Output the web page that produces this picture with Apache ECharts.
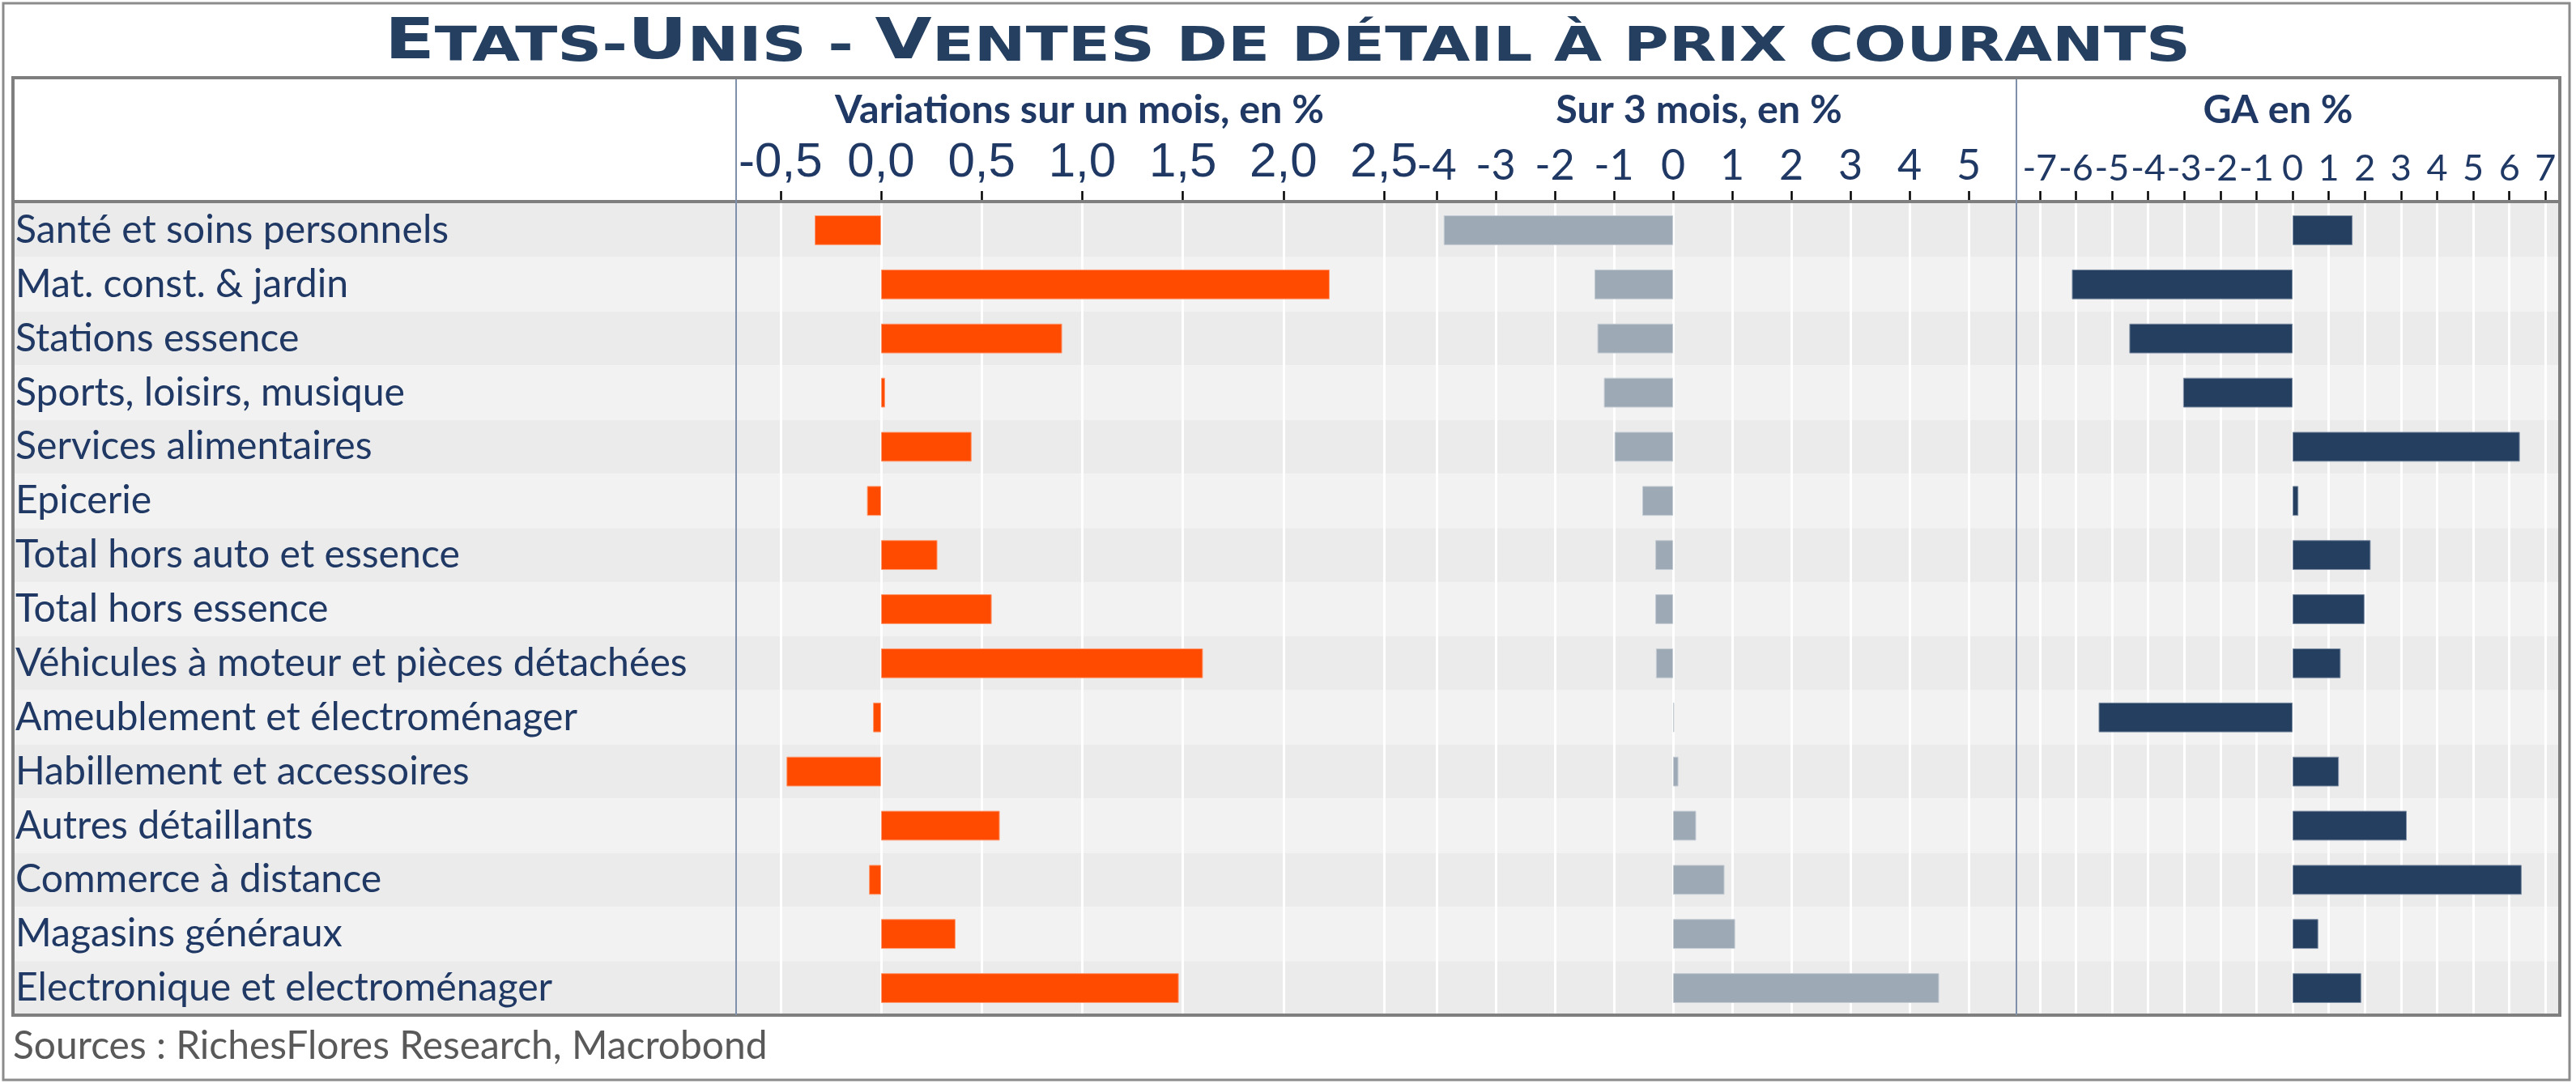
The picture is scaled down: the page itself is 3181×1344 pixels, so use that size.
<!DOCTYPE html>
<html><head><meta charset="utf-8">
<script src="https://cdn.jsdelivr.net/npm/echarts@6/dist/echarts.min.js"></script>
<style>html,body{margin:0;padding:0;background:#fff}#c{width:3181px;height:1344px}</style>
</head><body><div id="c"></div>
<script>
// ---------------- DATA ----------------
const categories = [
  'Santé et soins personnels',
  'Mat. const. & jardin',
  'Stations essence',
  'Sports, loisirs, musique',
  'Services alimentaires',
  'Epicerie',
  'Total hors auto et essence',
  'Total hors essence',
  'Véhicules à moteur et pièces détachées',
  'Ameublement et électroménager',
  'Habillement et accessoires',
  'Autres détaillants',
  'Commerce à distance',
  'Magasins généraux',
  'Electronique et electroménager'
];
const monthly     = [-0.33, 2.23, 0.90, 0.02, 0.45, -0.07, 0.28, 0.55, 1.60, -0.04, -0.47, 0.59, -0.06, 0.37, 1.48];
const threeMonths = [-3.88, -1.33, -1.28, -1.17, -0.99, -0.52, -0.30, -0.30, -0.29, 0.02, 0.09, 0.39, 0.87, 1.05, 4.50];
const yoy         = [1.66, -6.11, -4.52, -3.03, 6.29, 0.16, 2.16, 1.99, 1.33, -5.37, 1.28, 3.16, 6.34, 0.71, 1.90];

const panelTitles = ['Variations sur un mois, en %', 'Sur 3 mois, en %', 'GA en %'];
const monthlyAxis     = [-0.5, 2.5, 0.5];   // min, max, interval
const threeMonthsAxis = [-4, 5, 1];
const yoyAxis         = [-7, 7, 1];
const titleText  = 'Etats-Unis - Ventes de détail à prix courants';
const sourceText = 'Sources : RichesFlores Research, Macrobond';

// ---------------- LAYOUT / STYLE ----------------
const W = 3181, H = 1344;
const NAVY = '#1F3864';
const TOP = 251, TABLE_BOTTOM = 1254;
const cv = document.createElement('canvas').getContext('2d');
function measure(text, font) { cv.font = font; return cv.measureText(text).width; }
function fit(text, weight, family, target) {
  const w = measure(text, weight + ' 100px ' + family);
  return 100 * target / w;
}
const labelSize  = fit('Véhicules à moteur et pièces détachées', 'normal', 'Lato', 830);
const headerSize = fit(panelTitles[0], 'bold', 'Lato', 604);
const sourceSize = fit(sourceText, 'normal', 'Lato', 932);

// title in pseudo small-caps
const BIG = 70, SMALL = 59, TFONT = '"DejaVu Sans"';
let rich = '', tWidth = 0;
{
  let runs = [];
  for (const ch of titleText) {
    const isBig = ch !== ch.toLowerCase() && ch === ch.toUpperCase();
    const k = isBig ? 'b' : 's';
    if (runs.length && runs[runs.length - 1].k === k) runs[runs.length - 1].t += ch.toUpperCase();
    else runs.push({ k, t: ch.toUpperCase() });
  }
  for (const r of runs) {
    rich += '{' + r.k + '|' + r.t + '}';
    tWidth += measure(r.t, 'bold ' + (r.k === 'b' ? BIG : SMALL) + 'px ' + TFONT);
  }
}
const titleScale = 2230 / tWidth;

// panel x-pixel anchors (min tick -> max tick)
const panels = [
  { left: 963.8, right: 1709,   axis: monthlyAxis,     data: monthly,     color: '#FF4B00', border: '#FF9A70',
    fmt: v => (Math.abs(v) < 1e-9 ? '0,0' : v.toFixed(1).replace('.', ',')), font: '"Liberation Sans Narrow", "Liberation Sans", sans-serif', fsize: 60, title: panelTitles[0], tx: 1333 },
  { left: 1774,  right: 2431,   axis: threeMonthsAxis, data: threeMonths, color: '#9DA9B5', border: '#C4CCD4',
    fmt: v => String(Math.round(v)), font: 'Lato', fsize: 52, title: panelTitles[1], tx: 2098 },
  { left: 2518.8, right: 3143.3, axis: yoyAxis,        data: yoy,         color: '#243F60', border: '#7D8DA3',
    fmt: v => String(Math.round(v)), font: 'Lato', fsize: 45, title: panelTitles[2], tx: 2813 }
];

const grids = [{ left: 16, right: W - 3161, top: TOP, bottom: H - TABLE_BOTTOM }];
const xAxes = [{ type: 'value', gridIndex: 0, show: false, min: 0, max: 1 }];
const yAxes = [{
  type: 'category', gridIndex: 0, data: categories, inverse: true, z: 0,
  axisLine: { show: false }, axisTick: { show: false },
  axisLabel: { inside: true, margin: 3, fontFamily: 'Lato', fontSize: labelSize, color: NAVY },
  splitArea: { show: true, areaStyle: { color: ['#EBEBEB', '#F2F2F2'] } },
  splitLine: { show: false }
}];
const series = [];
panels.forEach((p, i) => {
  const gi = i + 1;
  grids.push({ left: p.left, width: p.right - p.left, top: TOP, bottom: H - TABLE_BOTTOM });
  xAxes.push({
    type: 'value', gridIndex: gi, position: 'top', z: 1,
    min: p.axis[0], max: p.axis[1], interval: p.axis[2],
    axisLine: { show: false },
    axisTick: { show: true, length: 15, lineStyle: { color: '#000', width: 2.5 } },
    axisLabel: { margin: 20, fontFamily: p.font, fontSize: p.fsize, color: NAVY, formatter: p.fmt,
      hideOverlap: false, showMinLabel: true, showMaxLabel: true },
    splitLine: { show: true, showMinLine: true, showMaxLine: true, lineStyle: { color: '#FFFFFF', width: 3 } }
  });
  yAxes.push({ type: 'category', gridIndex: gi, data: categories, inverse: true, show: false });
  series.push({
    type: 'bar', xAxisIndex: gi, yAxisIndex: gi, data: p.data, barWidth: '55%', z: 3, silent: true,
    itemStyle: { color: p.color, borderColor: p.border, borderWidth: 1 }
  });
});

const graphic = [
  { type: 'rect', z: 100, silent: true, shape: { x: 4, y: 4, width: 3169, height: 1330 },
    style: { fill: 'none', stroke: '#8C8C8C', lineWidth: 3 } },
  { type: 'rect', z: 100, silent: true, shape: { x: 16, y: 96, width: 3145, height: TABLE_BOTTOM - 96 },
    style: { fill: 'none', stroke: '#7F7F7F', lineWidth: 4 } },
  { type: 'line', z: 100, silent: true, shape: { x1: 16, y1: 249, x2: 3161, y2: 249 },
    style: { stroke: '#7F7F7F', lineWidth: 4 } },
  { type: 'line', z: 100, silent: true, shape: { x1: 909, y1: 98, x2: 909, y2: TABLE_BOTTOM },
    style: { stroke: '#7E90AA', lineWidth: 2 } },
  { type: 'line', z: 100, silent: true, shape: { x1: 2490, y1: 98, x2: 2490, y2: TABLE_BOTTOM },
    style: { stroke: '#7E90AA', lineWidth: 2 } },
  { type: 'text', z: 100, silent: true, x: 1590, y: 49, scaleX: titleScale, originX: 0, originY: 0,
    style: { text: rich, x: 0, y: 0, align: 'center', verticalAlign: 'middle', textAlign: 'center', textVerticalAlign: 'middle',
      rich: {
        b: { fontFamily: TFONT, fontWeight: 'bold', fontSize: BIG, fill: '#243F60', color: '#243F60', verticalAlign: 'bottom', lineHeight: 80 },
        s: { fontFamily: TFONT, fontWeight: 'bold', fontSize: SMALL, fill: '#243F60', color: '#243F60', verticalAlign: 'bottom', lineHeight: 80 }
      } } },
  { type: 'text', z: 100, silent: true,
    style: { text: sourceText, x: 16, y: 1293, align: 'left', verticalAlign: 'middle', textAlign: 'left', textVerticalAlign: 'middle',
      fontFamily: 'Lato', fontSize: sourceSize, fill: '#595959' } }
];
panels.forEach(p => {
  graphic.push({ type: 'text', z: 100, silent: true,
    style: { text: p.title, x: p.tx, y: 136, align: 'center', verticalAlign: 'middle', textAlign: 'center', textVerticalAlign: 'middle',
      fontFamily: 'Lato', fontWeight: 'bold', fontSize: headerSize, fill: NAVY } });
});

const chart = echarts.init(document.getElementById('c'), null, { renderer: 'canvas', width: W, height: H });
chart.setOption({
  backgroundColor: '#FFFFFF',
  animation: false,
  grid: grids, xAxis: xAxes, yAxis: yAxes, series: series, graphic: graphic
});
</script>
</body></html>
